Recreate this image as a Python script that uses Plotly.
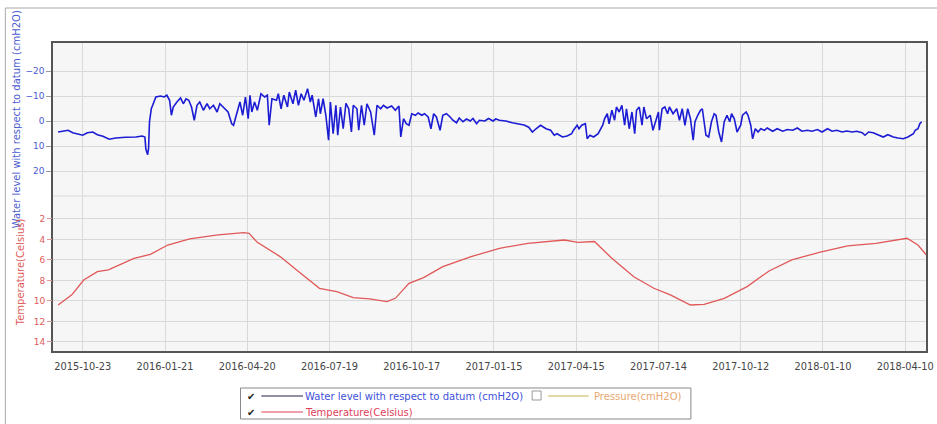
import plotly.graph_objects as go
import pandas as pd

# ---------------- data ----------------
BASE_DATE = "2015-09-20"

wl_day = [6, 11, 17, 22, 27, 33, 38, 44, 49, 55, 62, 69, 80, 91, 98, 101, 102, 104, 105, 106,
          108, 111, 113, 118, 122, 125, 128, 130, 132, 136, 140, 143, 146, 149, 152, 155, 158, 161, 165, 169,
          172, 176, 180, 183, 187, 192, 196, 198, 201, 205, 208, 211, 214, 216, 218, 221, 224, 228, 232, 235,
          237, 240, 245, 247, 250, 253, 257, 259, 263, 266, 269, 272, 275, 279, 282, 284, 288, 291, 293, 296,
          299, 302, 304, 307, 310, 312, 315, 318, 321, 324, 327, 329, 333, 335, 338, 341, 344, 348, 352, 355,
          359, 362, 366, 371, 375, 379, 381, 384, 387, 390, 393, 397, 400, 404, 407, 411, 414, 417, 420, 424,
          427, 431, 435, 438, 442, 445, 449, 453, 457, 460, 464, 467, 473, 477, 482, 485, 489, 496, 503, 511,
          516, 521, 525, 529, 534, 540, 545, 549, 552, 558, 563, 568, 570, 574, 576, 579, 583, 585, 588, 592,
          597, 602, 604, 607, 609, 612, 615, 617, 620, 623, 626, 628, 631, 634, 637, 639, 642, 645, 647, 650,
          654, 657, 660, 663, 664, 667, 670, 673, 675, 679, 683, 686, 689, 692, 695, 698, 701, 703, 706, 709,
          711, 715, 718, 721, 724, 726, 729, 732, 735, 738, 741, 743, 746, 749, 753, 755, 759, 761, 764, 766,
          769, 772, 775, 779, 782, 788, 793, 799, 804, 810, 815, 820, 826, 831, 837, 842, 848, 853, 858, 864,
          869, 875, 880, 886, 889, 893, 898, 904, 909, 914, 920, 925, 931, 936, 942, 944, 947, 949, 951]

wl_val = [4.4, 4.1, 3.7, 4.7, 5.1, 5.7, 4.7, 4.4, 5.5, 6.1, 7.3, 6.8, 6.5, 6.4, 6.0, 6.4, 11.1, 13.5, 11.0, 0.4,
          -4.9, -7.6, -9.6, -10.0, -9.6, -10.3, -8.3, -2.3, -5.6, -7.6, -9.2, -6.9, -8.9, -8.3, -5.6, -0.3, -6.3, -7.6, -4.3, -6.9,
          -4.9, -6.3, -3.6, -6.9, -5.6, -3.6, 1.1, 1.7, -2.3, -7.6, -2.3, -9.6, -0.9, -10.3, -3.6, -7.6, -4.3, -10.9, -9.6, -10.3,
          1.7, -8.9, -8.3, -10.9, -4.9, -10.3, -5.6, -11.6, -6.9, -12.3, -6.3, -10.9, -8.3, -12.9, -7.6, -10.3, -1.6, -8.9, -2.9, -8.9,
          -2.3, 7.7, -7.6, 5.1, -6.3, 5.7, -5.6, 3.1, -7.1, -4.9, 4.4, -6.3, -4.9, 3.7, -6.3, 1.7, -6.9, -3.6, 5.7, -6.3,
          -4.9, -6.3, -5.2, -6.0, -4.3, -6.0, 6.4, -0.9, 1.1, 1.7, -2.9, -2.3, -3.2, -2.3, -2.9, -1.6, 3.1, -2.9, -1.6, 3.7,
          -2.3, -2.9, -1.6, -0.3, 0.7, -1.2, 0.3, -0.8, 0.0, -1.0, 1.1, -0.3, 0.0, -1.0, 0.0, -0.8, -0.3, 0.0, 0.7, 1.1,
          1.6, 2.5, 4.4, 3.1, 1.7, 3.1, 3.7, 5.7, 5.1, 6.4, 6.0, 5.1, 3.7, 1.7, 3.1, 1.7, 1.1, 7.1, 5.7, 6.4,
          5.1, 1.7, -0.9, -2.9, 1.1, -4.3, -0.3, -5.6, -3.6, -6.3, 1.7, -4.9, 3.1, -3.6, 5.1, -4.3, -5.6, 1.7, -5.6, -0.9,
          -2.3, 3.7, 0.3, -3.6, 3.7, -4.9, -5.6, -2.9, -5.6, -2.9, -4.9, -0.3, -4.9, 1.7, -4.9, -0.9, 7.7, 0.3, -2.3, -4.3,
          -4.9, 5.7, 6.4, 0.3, -2.9, -2.3, 4.4, 8.4, 0.3, -2.3, 0.3, -2.9, -0.9, 4.4, 1.7, -2.3, -3.6, -2.3, 1.7, 7.1,
          3.1, 4.4, 3.1, 3.7, 2.8, 4.1, 3.1, 4.1, 3.4, 3.7, 2.8, 4.1, 3.7, 4.1, 3.4, 4.4, 3.1, 4.1, 3.7, 4.4,
          4.0, 4.4, 4.1, 4.7, 5.7, 4.4, 4.7, 5.7, 6.4, 5.5, 6.4, 6.8, 7.1, 6.4, 5.1, 3.7, 3.1, 1.1, 0.3]

temp_day = [6, 21, 34, 49, 61, 89, 107, 126, 150, 181, 209, 215, 224, 249, 267, 292, 311, 329, 347, 366,
            375, 390, 406, 427, 458, 489, 520, 550, 560, 575, 593, 612, 636, 658, 676, 698, 713, 735, 760, 784,
            809, 839, 870, 901, 935, 947, 956]
temp_val = [10.4, 9.4, 7.95, 7.14, 6.97, 5.84, 5.45, 4.54, 3.95, 3.56, 3.33, 3.4, 4.28, 5.67, 6.97, 8.77, 9.09, 9.68, 9.8, 10.07,
            9.74, 8.28, 7.72, 6.65, 5.67, 4.86, 4.37, 4.15, 4.05, 4.28, 4.2, 5.84, 7.63, 8.76, 9.41, 10.39, 10.33, 9.74, 8.6, 7.07,
            6.0, 5.25, 4.63, 4.37, 3.88, 4.54, 5.5]

x_tick_dates = ["2015-10-23", "2016-01-21", "2016-04-20", "2016-07-19", "2016-10-17", "2017-01-15",
                "2017-04-15", "2017-07-14", "2017-10-12", "2018-01-10", "2018-04-10"]
water_ticks = [-20, -10, 0, 10, 20]
temp_ticks = [2, 4, 6, 8, 10, 12, 14]

# ---------------- figure ----------------
W, H = 937, 424
ML, MR, MT, MB = 53, 4, 43, 73
PW, PH = W - ML - MR, H - MT - MB

def px(x):
    return (x - ML) / PW

def py(y):
    return (H - MB - y) / PH

base = pd.Timestamp(BASE_DATE)
wl_x = base + pd.to_timedelta(wl_day, unit="D")
tp_x = base + pd.to_timedelta(temp_day, unit="D")

FONT = "DejaVu Sans"
BLUE_TXT = "#4b5bd0"
RED_TXT = "#e05a5a"
GRID = "#d9d9d9"

fig = go.Figure()
fig.add_trace(go.Scatter(x=wl_x, y=wl_val, mode="lines", yaxis="y",
                         line=dict(color="#1c1cd4", width=1.6), showlegend=False,
                         name="Water level with respect to datum (cmH2O)"))
fig.add_trace(go.Scatter(x=tp_x, y=temp_val, mode="lines", yaxis="y2",
                         line=dict(color="#e05858", width=1.3), showlegend=False,
                         name="Temperature(Celsius)"))

fig.update_layout(
    width=W, height=H,
    margin=dict(l=ML, r=MR, t=MT, b=MB, pad=0),
    paper_bgcolor="white",
    plot_bgcolor="#f6f6f6",
    font=dict(family=FONT, size=8, color="#333"),
    xaxis=dict(
        range=["2015-09-20 10:00", "2018-05-02 19:00"],
        tickvals=x_tick_dates, tickformat="%Y-%m-%d",
        ticklabeloverflow="allow",
        showgrid=True, gridcolor=GRID, gridwidth=1,
        showline=True, linecolor="#555", linewidth=1.5, mirror=True,
        ticks="outside", ticklen=5, tickcolor="rgba(0,0,0,0)",
        tickfont=dict(family=FONT, size=9.8, color="#444"),
        zeroline=False,
    ),
    yaxis=dict(
        range=[92, -31.2],
        tickvals=water_ticks,
        showgrid=True, gridcolor=GRID, gridwidth=1,
        showline=True, linecolor="#555", linewidth=1.5, mirror=True,
        ticks="outside", ticklen=5, tickcolor="#999",
        tickfont=dict(family=FONT, size=9, color=BLUE_TXT),
        zeroline=False,
    ),
    yaxis2=dict(
        range=[14.88, -15.17],
        overlaying="y", side="left", anchor="x",
        tickvals=temp_ticks,
        showgrid=True, gridcolor=GRID, gridwidth=1,
        showline=False,
        ticks="outside", ticklen=5, tickcolor="#d99",
        tickfont=dict(family=FONT, size=9, color=RED_TXT),
        zeroline=False,
    ),
)

shapes = []
# extra gridline at water level 30
shapes.append(dict(type="line", xref="paper", yref="y", x0=0, x1=1, y0=30, y1=30,
                   line=dict(color=GRID, width=1), layer="below"))
# outer frame
shapes.append(dict(type="line", xref="paper", yref="paper", x0=px(5), x1=px(5), y0=py(8), y1=py(430),
                   line=dict(color="#aaa", width=1)))
shapes.append(dict(type="line", xref="paper", yref="paper", x0=px(5), x1=px(945), y0=py(8), y1=py(8),
                   line=dict(color="#aaa", width=1)))
# legend box
shapes.append(dict(type="rect", xref="paper", yref="paper", x0=px(242), x1=px(696), y0=py(388), y1=py(419),
                   line=dict(color="#888", width=1), fillcolor="white"))
# legend sample lines
shapes.append(dict(type="line", xref="paper", yref="paper", x0=px(263), x1=px(305), y0=py(396), y1=py(396),
                   line=dict(color="#20204a", width=1)))
shapes.append(dict(type="line", xref="paper", yref="paper", x0=px(552), x1=px(593), y0=py(396), y1=py(396),
                   line=dict(color="#c8b450", width=1)))
shapes.append(dict(type="line", xref="paper", yref="paper", x0=px(263), x1=px(305), y0=py(412), y1=py(412),
                   line=dict(color="#e0405a", width=1)))
# empty checkbox for Pressure
shapes.append(dict(type="rect", xref="paper", yref="paper", x0=px(536), x1=px(545), y0=py(391), y1=py(400),
                   line=dict(color="#999", width=1), fillcolor="white"))

annotations = []
# axis titles
annotations.append(dict(text="Water level with respect to datum (cmH2O)", xref="paper", yref="paper",
                        x=px(17), y=py(119), textangle=-90, showarrow=False,
                        font=dict(family=FONT, size=10, color=BLUE_TXT), xanchor="center", yanchor="middle"))
annotations.append(dict(text="Temperature(Celsius)", xref="paper", yref="paper",
                        x=px(20), y=py(272), textangle=-90, showarrow=False,
                        font=dict(family=FONT, size=10, color=RED_TXT), xanchor="center", yanchor="middle"))
# legend texts
def leg_text(t, x, y, color):
    annotations.append(dict(text=t, xref="paper", yref="paper", x=px(x), y=py(y), showarrow=False,
                            xanchor="left", yanchor="middle", font=dict(family=FONT, size=10, color=color)))

leg_text("✔", 247, 396, "#222")
leg_text("✔", 247, 412, "#222")
leg_text("Water level with respect to datum (cmH2O)", 305, 396, "#4050d8")
leg_text("Pressure(cmH2O)", 596, 396, "#e8a870")
leg_text("Temperature(Celsius)", 305, 412, "#e0405a")

fig.update_layout(shapes=shapes, annotations=annotations)

fig.write_html("out.html",
               config={"displayModeBar": False},
               post_script="document.body.style.margin='0px';document.body.style.overflow='hidden';")
